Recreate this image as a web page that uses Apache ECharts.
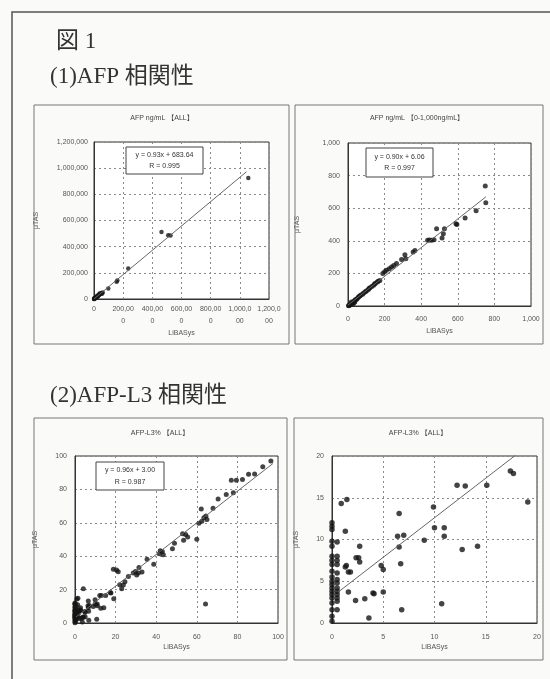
<!DOCTYPE html>
<html>
<head>
<meta charset="utf-8">
<script src="https://cdn.jsdelivr.net/npm/echarts@6/dist/echarts.min.js"></script>
<style>
  html, body { margin: 0; padding: 0; background: #fafaf8; }
  #chart { width: 550px; height: 679px; }
</style>
</head>
<body>
<div id="chart"></div>
<script>
// AFP ng/mL [ALL]  (LiBASys x, μTAS y)
const afpAllPoints = [
  [1058000, 925000], [463000, 513000], [509000, 488000], [525000, 485000],
  [235000, 234000], [155000, 132000], [160000, 142000], [98000, 81000],
  [60000, 50000], [55000, 40000], [50000, 45000], [45000, 38000], [40000, 36000],
  [38000, 42000], [35000, 30000], [30000, 28000], [28000, 22000], [25000, 20000],
  [22000, 25000], [20000, 18000], [18000, 14000], [15000, 12000], [14000, 16000],
  [12000, 10000], [10000, 8000], [8000, 6000], [6000, 5000], [4000, 3000],
  [3000, 6000], [2000, 1500], [1000, 800], [500, 300]
]
const afpAllFit = [[0, 680], [1045000, 972000]]

// AFP ng/mL [0-1,000ng/mL]
const afpLowPoints = [
  [750, 736], [753, 634], [700, 585], [640, 540], [590, 505], [595, 500],
  [527, 474], [484, 474], [521, 444], [514, 417], [470, 407], [457, 403],
  [445, 405], [435, 403], [366, 341], [356, 331], [311, 315], [316, 290],
  [293, 286], [265, 260], [250, 248], [238, 239], [225, 228], [210, 219],
  [200, 210], [190, 200], [174, 157], [165, 152], [160, 148], [150, 140],
  [145, 135], [140, 128], [130, 120], [120, 112], [115, 108], [110, 100],
  [100, 92], [95, 88], [85, 80], [80, 72], [70, 68], [65, 62], [60, 58],
  [55, 52], [50, 45], [45, 40], [40, 38], [37, 25], [35, 32], [33, 22],
  [30, 26], [28, 14], [25, 20], [20, 15], [18, 24], [15, 12], [12, 8],
  [8, 5], [5, 3], [3, 2]
]
const afpLowFit = [[0, 6], [753, 669]]

// AFP-L3% [ALL]  (same data in both lower panels)
const l3Points = [
  [0, 0.2], [0, 0.8], [0, 1.6], [0, 2.4], [0, 3.0], [0, 3.4], [0, 3.8], [0, 4.2],
  [0, 4.6], [0, 5.0], [0, 5.5], [0, 6.2], [0, 7.0], [0, 7.5], [0, 8.0], [0, 9.2],
  [0, 9.8], [0, 11.2], [0, 11.6], [0, 12.0],
  [0.5, 1.6], [0.5, 2.6], [0.5, 3.0], [0.5, 3.4], [0.5, 3.8], [0.5, 4.2],
  [0.5, 4.8], [0.5, 5.2], [0.5, 6.0], [0.5, 7.0], [0.5, 7.5], [0.5, 8.0], [0.5, 9.7],
  [0.9, 14.3], [1.45, 14.8], [1.3, 11.0], [1.3, 6.7], [1.4, 6.9], [1.6, 6.1],
  [1.8, 6.1], [2.7, 9.2], [2.6, 7.8], [2.7, 7.3], [2.35, 7.8], [1.6, 3.7],
  [2.3, 2.7], [3.2, 2.9], [3.6, 0.6], [4.0, 3.6], [4.1, 3.5], [4.8, 6.9],
  [5.0, 6.4], [5.0, 3.7], [6.55, 13.1], [6.4, 10.4], [7.0, 10.5], [6.55, 9.1],
  [6.7, 7.1], [6.8, 1.6], [9.0, 9.9], [9.9, 13.9], [10.0, 11.4], [10.95, 11.4],
  [10.95, 10.4], [10.7, 2.3], [12.2, 16.5], [13.0, 16.4], [12.7, 8.8], [14.2, 9.2],
  [15.1, 16.5], [17.4, 18.2], [17.7, 17.9], [19.1, 14.5],
  [4.1, 20.5], [18.9, 32.2], [20.5, 31.7], [21.3, 30.7], [22, 22.9], [23, 20.5],
  [23.8, 22.8], [24.6, 24.7], [26.3, 27.8], [28.7, 30], [29.8, 30.8], [30.4, 28.8],
  [31.2, 30], [31.5, 33.2], [33, 30.5], [35.5, 38.2], [38.8, 35.2], [41.5, 41.5],
  [42, 43.2], [43, 42.8], [43.5, 40.8], [48, 44.5], [49, 47.8], [53, 53.5],
  [53.5, 49.5], [54.5, 53], [55.5, 51.5], [60, 50.2], [61, 59.7], [62.5, 61],
  [62.2, 68.2], [63.5, 63], [64.5, 64], [65, 62], [64.3, 11.4], [68, 68.7],
  [70.5, 74.2], [74.5, 77], [78, 78], [77, 85.5], [79.5, 85.5], [82.5, 86],
  [85.5, 89], [88.5, 89.2], [92.5, 93.5], [96.5, 97]
]
const l3Fit = [[0.6, 3.7], [97.5, 95.5]]

const xName = 'LiBASys'
const yName = 'μTAS'
const titles = ['AFP ng/mL 【ALL】', 'AFP ng/mL 【0-1,000ng/mL】', 'AFP-L3% 【ALL】', 'AFP-L3% 【ALL】']
const equations = [
  ['y = 0.93x + 683.64', 'R = 0.995'],
  ['y = 0.90x + 6.06', 'R = 0.997'],
  ['y = 0.96x + 3.00', 'R = 0.987']
]

const labelFont = { fontSize: 7, color: '#555', fontFamily: 'Liberation Sans' }
const gridLine = { show: true, lineStyle: { color: '#8a8a8a', type: [2, 3], width: 1 } }

function comma(v) {
  return Number(v).toLocaleString('en-US')
}

function makeX(gridIndex, max, interval, margin, nameGap, formatter) {
  return {
    gridIndex, type: 'value', min: 0, max, interval,
    name: xName, nameLocation: 'middle', nameGap,
    nameTextStyle: { fontSize: 7, color: '#555', fontFamily: 'Liberation Sans' },
    axisLine: { show: true, lineStyle: { color: '#333' } },
    axisTick: { show: false },
    axisLabel: Object.assign({ margin, formatter, lineHeight: 12, showMaxLabel: true }, labelFont),
    splitLine: gridLine
  }
}

function makeY(gridIndex, max, interval, margin, nameGap, formatter) {
  return {
    gridIndex, type: 'value', min: 0, max, interval,
    name: yName, nameLocation: 'middle', nameGap, nameRotate: 90,
    nameTextStyle: { fontSize: 7, color: '#555', fontFamily: 'Liberation Sans' },
    axisLine: { show: true, lineStyle: { color: '#333' } },
    axisTick: { show: false },
    axisLabel: Object.assign({ margin, formatter }, labelFont),
    splitLine: gridLine
  }
}

// x labels of the first panel wrap onto two lines like "200,00 / 0"
function wrapLabel(v) {
  const s = comma(v)
  if (s.length < 7) return s
  const cut = s.length > 7 ? s.length - 2 : s.length - 1
  return s.slice(0, cut) + '\n' + s.slice(cut)
}

const gridBox = { show: true, borderColor: '#333', borderWidth: 1, backgroundColor: '#fff' }

const headFont = '23px "Liberation Serif", "Noto Sans CJK JP"'
const smallFont = '7px "Liberation Sans", "Noto Sans CJK JP"'

function panelBox(x, y, w, h) {
  return { type: 'rect', shape: { x, y, width: w, height: h }, style: { fill: 'none', stroke: '#777', lineWidth: 1 }, z: 1 }
}

function smallText(text, x, y) {
  return { type: 'text', style: { text, x, y, font: smallFont, fill: '#444', textAlign: 'center', textVerticalAlign: 'middle' }, z: 10 }
}

function eqBox(lines, x, y, w, h) {
  return {
    type: 'group', z: 100,
    children: [
      { type: 'rect', shape: { x, y, width: w, height: h }, style: { fill: '#fff', stroke: '#444', lineWidth: 1 }, z: 100 },
      { type: 'text', z: 101, style: { text: lines[0], x: x + w / 2, y: y + h * 0.3, font: smallFont, fill: '#333', textAlign: 'center', textVerticalAlign: 'middle' } },
      { type: 'text', z: 101, style: { text: lines[1], x: x + w / 2, y: y + h * 0.7, font: smallFont, fill: '#333', textAlign: 'center', textVerticalAlign: 'middle' } }
    ]
  }
}

const option = {
  animation: false,
  backgroundColor: '#fafaf8',
  grid: [
    Object.assign({ left: 94, top: 142, width: 175, height: 157 }, gridBox),
    Object.assign({ left: 348, top: 143, width: 183, height: 163 }, gridBox),
    Object.assign({ left: 75, top: 456, width: 203, height: 167 }, gridBox),
    Object.assign({ left: 332, top: 456, width: 205, height: 167 }, gridBox)
  ],
  xAxis: [
    makeX(0, 1200000, 200000, 4, 31, wrapLabel),
    makeX(1, 1000, 200, 7, 22, comma),
    makeX(2, 100, 20, 8, 20, comma),
    makeX(3, 20, 5, 8, 20, comma)
  ],
  yAxis: [
    makeY(0, 1200000, 200000, 6, 54, comma),
    makeY(1, 1000, 200, 8, 47, comma),
    makeY(2, 100, 20, 8, 36, comma),
    makeY(3, 20, 5, 8, 32, comma)
  ],
  series: [
    { type: 'scatter', xAxisIndex: 0, yAxisIndex: 0, data: afpAllPoints, symbolSize: 4.5, itemStyle: { color: '#151515' } },
    { type: 'line', xAxisIndex: 0, yAxisIndex: 0, data: afpAllFit, showSymbol: false, lineStyle: { color: '#666', width: 1 } },
    { type: 'scatter', xAxisIndex: 1, yAxisIndex: 1, data: afpLowPoints, symbolSize: 5, itemStyle: { color: '#151515' } },
    { type: 'line', xAxisIndex: 1, yAxisIndex: 1, data: afpLowFit, showSymbol: false, lineStyle: { color: '#666', width: 1 } },
    { type: 'scatter', xAxisIndex: 2, yAxisIndex: 2, data: l3Points, symbolSize: 5, itemStyle: { color: '#151515' } },
    { type: 'line', xAxisIndex: 2, yAxisIndex: 2, data: l3Fit, showSymbol: false, lineStyle: { color: '#666', width: 1 } },
    { type: 'scatter', xAxisIndex: 3, yAxisIndex: 3, data: l3Points, symbolSize: 5.5, itemStyle: { color: '#151515' } },
    { type: 'line', xAxisIndex: 3, yAxisIndex: 3, data: l3Fit, showSymbol: false, clip: true, lineStyle: { color: '#666', width: 1 } }
  ],
  graphic: [
    { type: 'rect', shape: { x: 12, y: 12, width: 560, height: 700 }, style: { fill: 'none', stroke: '#555', lineWidth: 1.5 }, z: 1 },
    { type: 'text', style: { text: '図 1', x: 56, y: 42, font: headFont, fill: '#333', textVerticalAlign: 'middle' } },
    { type: 'text', style: { text: '(1)AFP 相関性', x: 50, y: 77, font: headFont, fill: '#333', textVerticalAlign: 'middle' } },
    { type: 'text', style: { text: '(2)AFP-L3 相関性', x: 50, y: 396, font: headFont, fill: '#333', textVerticalAlign: 'middle' } },
    panelBox(34, 105, 255, 239),
    panelBox(295, 105, 248, 239),
    panelBox(34, 418, 253, 242),
    panelBox(294, 418, 249, 242),
    smallText(titles[0], 162, 118),
    smallText(titles[1], 417, 118),
    smallText(titles[2], 160, 433),
    smallText(titles[3], 418, 433),
    eqBox(equations[0], 126, 147, 77, 27),
    eqBox(equations[1], 366, 148, 67, 29),
    eqBox(equations[2], 96, 462, 68, 28)
  ]
}

const myChart = echarts.init(document.getElementById('chart'))
myChart.setOption(option)
</script>
</body>
</html>
